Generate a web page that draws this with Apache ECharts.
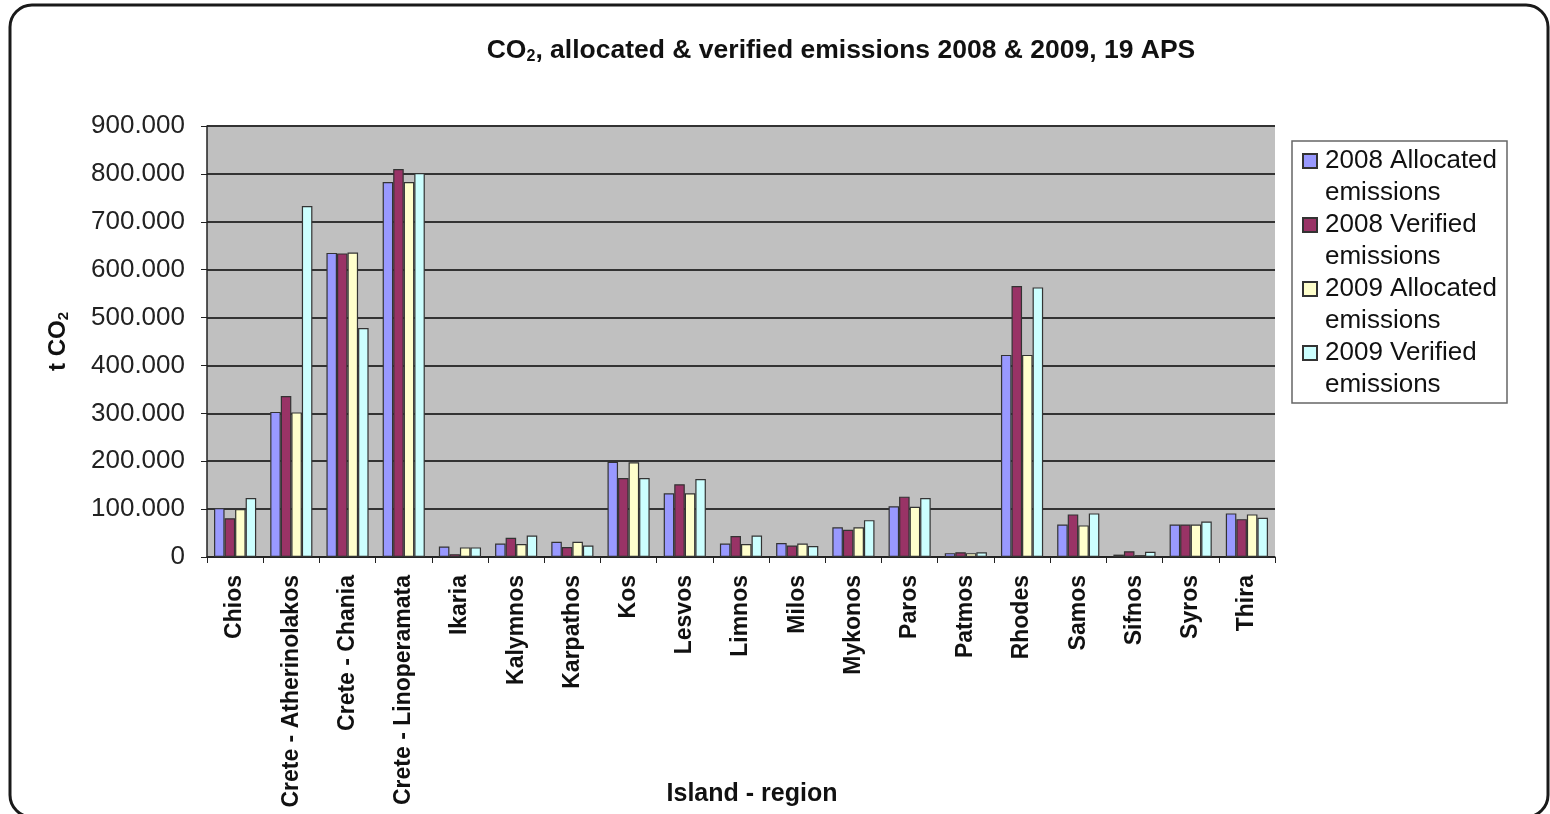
<!DOCTYPE html>
<html>
<head>
<meta charset="utf-8">
<title>CO2 emissions 2008 & 2009</title>
<script src="https://cdn.jsdelivr.net/npm/echarts@6/dist/echarts.min.js"></script>
<style>
  html, body { margin: 0; padding: 0; background: #ffffff; }
  #chart { width: 1550px; height: 814px; }
</style>
</head>
<body>
<div id="chart"></div>
<script>
// Islands / power stations
const islands = ['Chios', 'Crete - Atherinolakos', 'Crete - Chania', 'Crete - Linoperamata',
  'Ikaria', 'Kalymnos', 'Karpathos', 'Kos', 'Lesvos', 'Limnos', 'Milos', 'Mykonos',
  'Paros', 'Patmos', 'Rhodes', 'Samos', 'Sifnos', 'Syros', 'Thira'];

// Emissions in t CO2
const allocated2008 = [102000, 303000, 635000, 783000, 22000, 28000, 32000, 199000, 133000,
  28000, 29000, 62000, 106000, 8000, 422000, 68000, 5000, 68000, 91000];
const verified2008 = [81000, 336000, 634000, 810000, 6000, 40000, 21000, 165000, 152000,
  44000, 24000, 57000, 126000, 10000, 566000, 89000, 12000, 68000, 79000];
const allocated2009 = [100000, 302000, 636000, 783000, 20000, 27000, 32000, 198000, 133000,
  27000, 28000, 62000, 105000, 8000, 422000, 66000, 4000, 68000, 89000];
const verified2009 = [123000, 733000, 478000, 802000, 20000, 45000, 24000, 165000, 163000,
  45000, 23000, 77000, 123000, 10000, 563000, 91000, 11000, 74000, 82000];

const seriesNames = ['2008 Allocated emissions', '2008 Verified emissions',
  '2009 Allocated emissions', '2009 Verified emissions'];
const seriesData = [allocated2008, verified2008, allocated2009, verified2009];
const seriesColors = ['#9999FF', '#993366', '#FFFFCC', '#CCFFFF'];

const FONT = '"Liberation Sans", Arial, sans-serif';

function dotThousands(v) {
  return String(v).replace(/\B(?=(\d{3})+(?!\d))/g, '.');
}

const chart = echarts.init(document.getElementById('chart'));

chart.setOption({
  animation: false,
  textStyle: { fontFamily: FONT },
  title: {
    text: '{b|CO}{s|2}{b|, allocated & verified emissions 2008 & 2009, 19 APS}',
    left: 836,
    textAlign: 'center',
    top: 31,
    textStyle: {
      rich: {
        b: { fontFamily: FONT, fontSize: 26.5, fontWeight: 'bold', color: '#111' },
        s: { fontFamily: FONT, fontSize: 16, fontWeight: 'bold', color: '#111', padding: [13, 0, 0, 0] }
      }
    }
  },
  legend: {
    orient: 'vertical',
    left: 1302,
    top: 113,
    icon: 'rect',
    itemWidth: 14,
    itemHeight: 14,
    itemGap: -32,
    borderWidth: 0,
    padding: 0,
    data: seriesNames,
    // leading blank line keeps the swatch level with the first text line
    formatter: function (name) {
      const i = name.indexOf(' emissions');
      return '\n' + name.slice(0, i) + '\n' + 'emissions';
    },
    textStyle: {
      fontFamily: FONT,
      fontSize: 26,
      lineHeight: 32,
      color: '#111',
      padding: [0, 0, 0, 3]
    }
  },
  graphic: [
    {
      type: 'rect',
      shape: { x: 10, y: 5, width: 1538, height: 812, r: 22 },
      style: { fill: 'none', stroke: '#1a1a1a', lineWidth: 3 },
      silent: true
    },
    {
      type: 'rect',
      shape: { x: 1292, y: 141, width: 215, height: 262 },
      style: { fill: 'none', stroke: '#666', lineWidth: 1.5 },
      silent: true,
      z: 10
    }
  ],
  grid: {
    left: 207,
    right: 275,
    top: 126,
    bottom: 257,
    outerBoundsMode: 'none',
    containLabel: false,
    show: true,
    backgroundColor: '#C0C0C0',
    borderWidth: 0
  },
  xAxis: {
    type: 'category',
    data: islands,
    name: 'Island - region',
    nameLocation: 'middle',
    nameGap: 225,
    nameMoveOverlap: false,
    nameTextStyle: {
      fontFamily: FONT, fontSize: 25, fontWeight: 'bold', color: '#111',
      padding: [0, 0, 0, 22]
    },
    axisLine: { lineStyle: { color: '#222', width: 1.5 } },
    axisTick: { show: true, length: 6, lineStyle: { color: '#222' } },
    axisLabel: {
      rotate: 90,
      margin: 18,
      interval: 0,
      fontFamily: FONT,
      fontSize: 23,
      fontWeight: 'bold',
      color: '#111'
    }
  },
  yAxis: {
    type: 'value',
    min: 0,
    max: 900000,
    interval: 100000,
    name: '{b|t CO}{s|2}',
    nameLocation: 'middle',
    nameGap: 136,
    nameMoveOverlap: false,
    nameTextStyle: {
      rich: {
        b: { fontFamily: FONT, fontSize: 24, fontWeight: 'bold', color: '#111' },
        s: { fontFamily: FONT, fontSize: 15, fontWeight: 'bold', color: '#111', padding: [11, 0, 0, 0] }
      }
    },
    axisLine: { show: true, lineStyle: { color: '#222', width: 1.5 } },
    axisTick: { show: true, length: 6, lineStyle: { color: '#222' } },
    axisLabel: {
      margin: 22,
      fontFamily: FONT,
      fontSize: 26,
      color: '#222',
      formatter: dotThousands
    },
    splitLine: { lineStyle: { color: '#333', width: 2 } }
  },
  series: seriesNames.map(function (name, i) {
    return {
      name: name,
      type: 'bar',
      data: seriesData[i],
      barGap: '0%',
      barCategoryGap: '25%',
      itemStyle: { color: seriesColors[i], borderColor: '#333', borderWidth: 1.2 }
    };
  })
});
</script>
</body>
</html>
